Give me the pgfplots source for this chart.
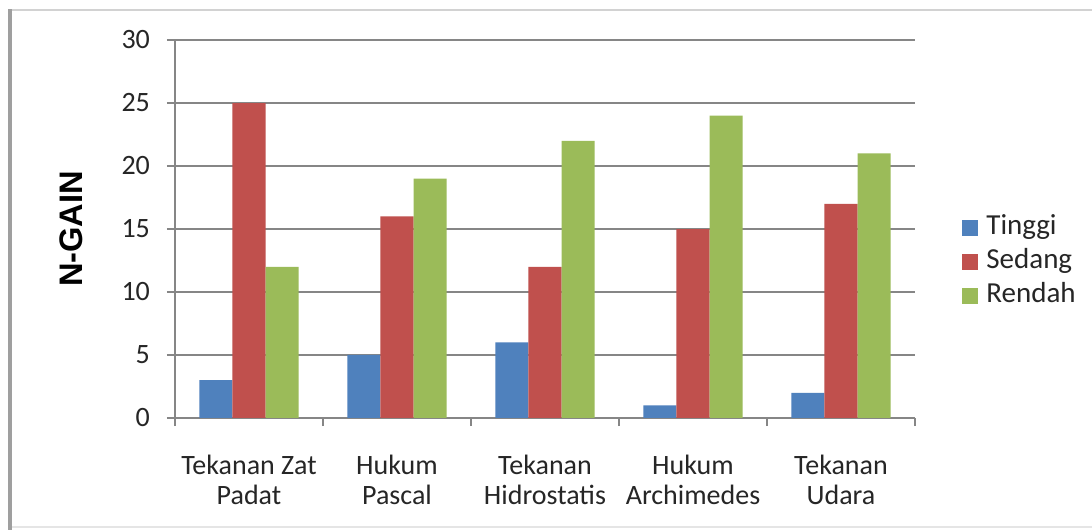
\documentclass[border=0pt]{standalone}
\usepackage{fontspec}
\setmainfont{Carlito}
\newfontfamily\arialfont{Liberation Sans}
\usepackage{pgfplots}
\pgfplotsset{compat=1.18}
\definecolor{cblue}{HTML}{4F81BD}
\definecolor{cred}{HTML}{C0504D}
\definecolor{cgreen}{HTML}{9BBB59}
\definecolor{axgray}{HTML}{868686}
\definecolor{txt}{HTML}{262626}
\begin{document}
\begin{tikzpicture}
\useasboundingbox (0,0) rectangle (546pt,265pt);
\fill[white] (0,0) rectangle (546pt,265pt);
\draw[gray!35, line width=0.8pt] (5pt,260pt) -- (546pt,260pt);
\draw[gray!20, line width=0.6pt] (5pt,1.5pt) -- (546pt,1.5pt);
\draw[gray!75, line width=1.6pt] (5pt,260.4pt) -- (5pt,0pt);
\begin{axis}[
  at={(87.5pt,56pt)}, anchor=south west,
  width=370pt, height=189pt, scale only axis,
  ybar=0pt, bar width=16.5pt,
  xmin=-0.5, xmax=4.5, ymin=0, ymax=30,
  axis x line*=bottom, axis y line*=left,
  axis line style={axgray, line width=0.7pt},
  xtick={0,1,2,3,4},
  xticklabels={Tekanan Zat\\Padat, Hukum\\Pascal, Tekanan\\Hidrostatis, Hukum\\Archimedes, Tekanan\\Udara},
  minor xtick={-0.5,0.5,1.5,2.5,3.5,4.5},
  major x tick style={draw=none},
  minor x tick style={axgray, line width=0.6pt},
  minor tick length=4pt,
  ytick={0,5,10,15,20,25,30},
  y tick style={axgray, line width=0.6pt},
  major tick length=4pt,
  tick align=outside,
  ymajorgrids, grid style={axgray, line width=0.6pt},
  /pgf/number format/assume math mode=true,
  ticklabel style={font=\fontsize{14}{15}\selectfont, text=txt},
  xticklabel style={align=center, yshift=-11pt},
  yticklabel style={xshift=-5pt},
  ylabel={N-GAIN},
  ylabel style={at={(axis description cs:-0.1405,0.5)}, anchor=center, font=\arialfont\bfseries\fontsize{16.3}{18}\selectfont, text=black},
  legend style={at={(axis description cs:1.0635,0.413)}, anchor=west, draw=none, fill=none, inner sep=0pt,
    font=\fontsize{14.5}{16}\selectfont, text=txt, row sep=2pt,
    nodes={text height=10pt, text depth=3pt, inner sep=1pt}},
  legend cell align=left,
  legend image code/.code={\fill[#1] (0pt,-4pt) rectangle (8pt,4pt); \path (11pt,0pt);},
]
\addplot[fill=cblue, draw=none] coordinates {(0,3) (1,5) (2,6) (3,1) (4,2)};
\addplot[fill=cred, draw=none] coordinates {(0,25) (1,16) (2,12) (3,15) (4,17)};
\addplot[fill=cgreen, draw=none] coordinates {(0,12) (1,19) (2,22) (3,24) (4,21)};
\legend{Tinggi, Sedang, Rendah}
\end{axis}
\end{tikzpicture}
\end{document}
